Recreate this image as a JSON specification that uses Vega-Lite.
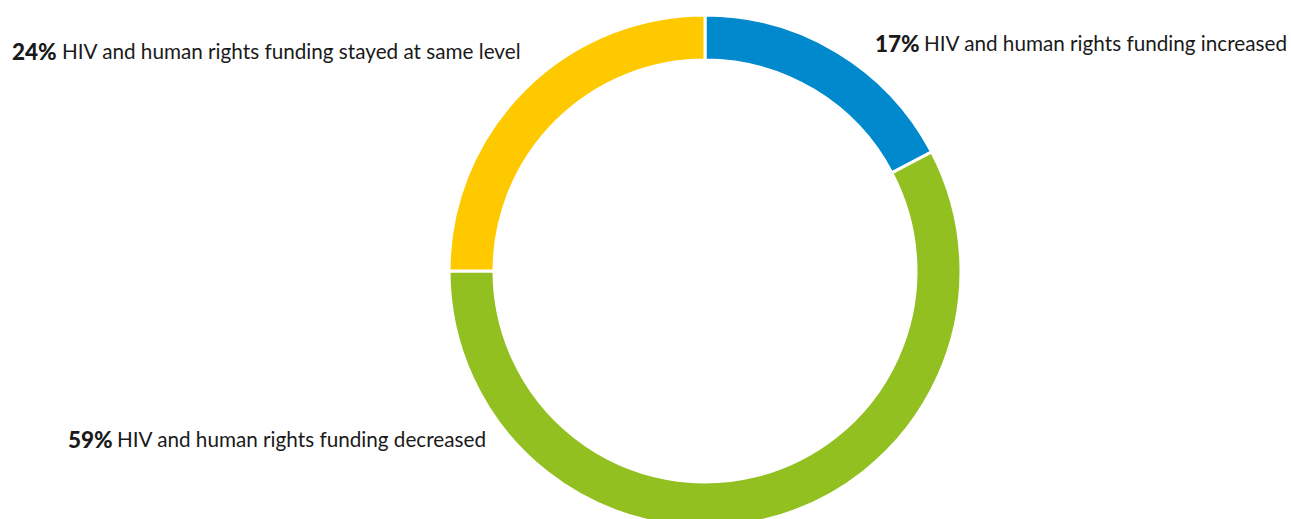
{
  "$schema": "https://vega.github.io/schema/vega-lite/v6.json",
  "autosize": {"type": "none"},
  "padding": {"left": 119, "top": 23, "right": 0, "bottom": 0},
  "width": 1172,
  "height": 496,
  "background": "white",
  "config": {"view": {"stroke": null}, "text": {"font": "Lato", "fontSize": 20.7, "fill": "#1a1a1a", "baseline": "middle"}},
  "data": {
    "values": [
      {"cat": "increased", "rank": 1, "value": 17.3, "pct": "17%", "desc": "HIV and human rights funding increased"},
      {"cat": "decreased", "rank": 2, "value": 57.7, "pct": "59%", "desc": "HIV and human rights funding decreased"},
      {"cat": "same", "rank": 3, "value": 25.0, "pct": "24%", "desc": "HIV and human rights funding stayed at same level"}
    ]
  },
  "transform": [
    {"stack": "value", "groupby": [], "sort": [{"field": "rank", "order": "ascending"}], "as": ["v0", "v1"]}
  ],
  "layer": [
    {
      "mark": {"type": "arc", "innerRadius": 211, "outerRadius": 256, "stroke": "white", "strokeWidth": 3},
      "encoding": {
        "theta": {"field": "v0", "type": "quantitative", "scale": {"domain": [0, 100]}},
        "theta2": {"field": "v1"},
        "color": {"field": "cat", "type": "nominal", "legend": null,
          "scale": {"domain": ["increased", "decreased", "same"], "range": ["#0089CC", "#92C021", "#FFC900"]}}
      }
    },
    {
      "transform": [{"filter": "datum.cat === 'increased'"}],
      "mark": {"type": "text", "radius": 226, "align": "left", "dx": 170, "fontWeight": 900, "fontSize": 22.5},
      "encoding": {"theta": {"field": "v0", "type": "quantitative"}, "text": {"field": "pct"}}
    },
    {
      "transform": [{"filter": "datum.cat === 'increased'"}],
      "mark": {"type": "text", "radius": 226, "align": "left", "dx": 219},
      "encoding": {"theta": {"field": "v0", "type": "quantitative"}, "text": {"field": "desc"}}
    },
    {
      "transform": [{"filter": "datum.cat === 'same'"}],
      "mark": {"type": "text", "radius": 218, "align": "left", "dx": -693, "fontWeight": 900, "fontSize": 22.5},
      "encoding": {"theta": {"field": "v1", "type": "quantitative"}, "text": {"field": "pct"}}
    },
    {
      "transform": [{"filter": "datum.cat === 'same'"}],
      "mark": {"type": "text", "radius": 218, "align": "left", "dx": -643},
      "encoding": {"theta": {"field": "v1", "type": "quantitative"}, "text": {"field": "desc"}}
    },
    {
      "transform": [{"filter": "datum.cat === 'decreased'"}],
      "mark": {"type": "text", "radius": 256, "align": "left", "dx": -381, "dy": 170, "fontWeight": 900, "fontSize": 22.5},
      "encoding": {"theta": {"field": "v1", "type": "quantitative"}, "text": {"field": "pct"}}
    },
    {
      "transform": [{"filter": "datum.cat === 'decreased'"}],
      "mark": {"type": "text", "radius": 256, "align": "left", "dx": -332, "dy": 170},
      "encoding": {"theta": {"field": "v1", "type": "quantitative"}, "text": {"field": "desc"}}
    }
  ]
}
